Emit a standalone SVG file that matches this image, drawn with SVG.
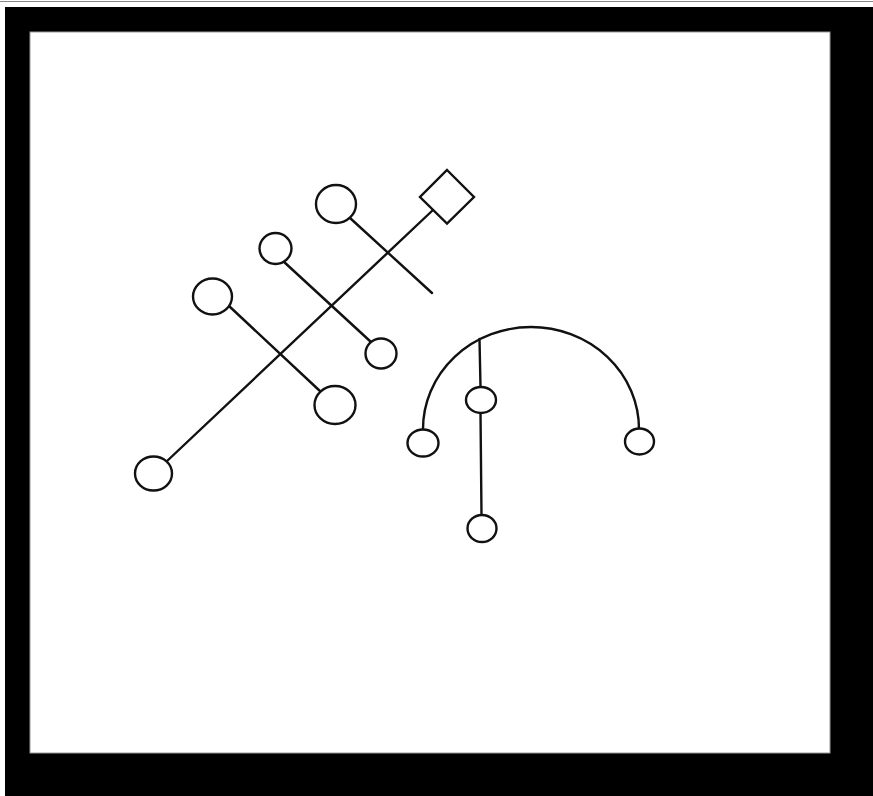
<svg xmlns="http://www.w3.org/2000/svg" width="873" height="796" viewBox="0 0 873 796">
<style>
.n{fill:#fff;stroke:#111;stroke-width:2.4}
.c{fill:none;stroke:#111;stroke-width:2.4;stroke-linecap:round}
</style>
<rect x="0" y="0" width="873" height="796" fill="#fff"/>
<line x1="0" y1="1.5" x2="873" y2="1.5" stroke="#888" stroke-width="1"/>
<rect x="5" y="7" width="868" height="789" fill="#000"/>
<rect x="30" y="32" width="800" height="721" fill="#fff" stroke="#999" stroke-width="1"/>
<g id="connectors">
<line class="c" x1="433" y1="210" x2="166" y2="462"/>
<line class="c" x1="350" y1="218" x2="432" y2="293"/>
<line class="c" x1="283" y1="261" x2="371" y2="342"/>
<line class="c" x1="229" y1="306" x2="321" y2="392"/>
<path class="c" d="M423,429 A108,102 0 0 1 639,429"/>
<line class="c" x1="479.5" y1="339" x2="480.5" y2="387"/>
<line class="c" x1="480.5" y1="413" x2="481.5" y2="515"/>
</g>
<g id="diamond"><polygon class="n" points="447,170 474,197 447,223.5 420,197"/></g>
<g id="n1"><ellipse class="n" cx="336" cy="204" rx="20" ry="19"/></g>
<g id="n2"><ellipse class="n" cx="275.5" cy="248.5" rx="16" ry="15.5"/></g>
<g id="n3"><ellipse class="n" cx="212.5" cy="296.5" rx="19.5" ry="18"/></g>
<g id="n4"><ellipse class="n" cx="381" cy="353.5" rx="15.5" ry="15"/></g>
<g id="n5"><ellipse class="n" cx="335" cy="405" rx="20.5" ry="19"/></g>
<g id="n6"><ellipse class="n" cx="153.5" cy="473.5" rx="18.5" ry="17"/></g>
<g id="n7"><ellipse class="n" cx="423" cy="443" rx="15.5" ry="13.5"/></g>
<g id="n8"><ellipse class="n" cx="639.5" cy="441.5" rx="14.5" ry="13"/></g>
<g id="n9"><ellipse class="n" cx="481" cy="400" rx="15" ry="13"/></g>
<g id="n10"><ellipse class="n" cx="482" cy="528.5" rx="14.5" ry="13.5"/></g>
</svg>
